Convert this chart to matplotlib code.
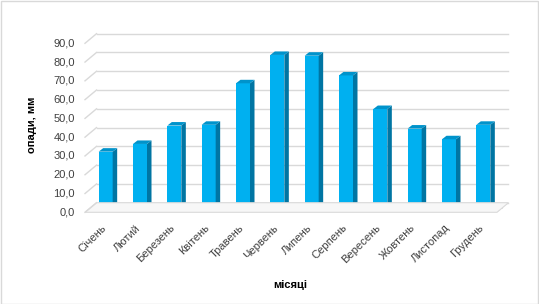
import matplotlib
matplotlib.use("Agg")
import matplotlib.pyplot as plt
import matplotlib.transforms as mtransforms
from matplotlib.patches import Polygon, Rectangle, Ellipse

months = ["Січень", "Лютий", "Березень", "Квітень", "Травень", "Червень",
          "Липень", "Серпень", "Вересень", "Жовтень", "Листопад", "Грудень"]
precip = [30.7, 34.8, 44.6, 45.0, 67.1, 82.2, 81.8, 71.3, 53.4, 43.0, 37.3, 45.0]
yticks = [0, 10, 20, 30, 40, 50, 60, 70, 80, 90]
ytick_labels = ["0,0", "10,0", "20,0", "30,0", "40,0", "50,0", "60,0", "70,0", "80,0", "90,0"]
ylabel = "опади, мм"
xlabel = "місяці"

plt.rcParams['font.family'] = ['Liberation Sans', 'DejaVu Sans']
W, H = 539, 304
DPI = 100
fig = plt.figure(figsize=(W / DPI, H / DPI), dpi=DPI)
fig.patch.set_facecolor("white")

# axes for the bar front plane (pixel layout)
left_px, right_px = 88.5, 500.5
y0_px, ytop_px = 209.3, 40.3
ax = fig.add_axes([left_px / W, (H - y0_px) / H, (right_px - left_px) / W, (y0_px - ytop_px) / H])
ax.set_xlim(-0.5, 11.5)
ax.set_ylim(0, 90)
ax.axis("off")

px_x = (right_px - left_px) / 12.0  # pixels per category
px_y = (y0_px - ytop_px) / 90.0     # pixels per unit

back = mtransforms.offset_copy(ax.transData, fig=fig, x=8, y=6.6, units='dots')
front = mtransforms.offset_copy(ax.transData, fig=fig, x=-3.5, y=-3.0, units='dots')

grid_c = "#d9d9d9"
text_c = "#404040"

# floor
pts = [front.transform((-0.5, 0)), front.transform((11.5, 0)),
       back.transform((11.5, 0)), back.transform((-0.5, 0))]
fig.patches.append(Polygon(pts, closed=True, transform=None, facecolor="#f7f7f7",
                           edgecolor=grid_c, lw=0.8, zorder=1))

# back wall gridlines + left diagonals
for v in yticks:
    ax.plot([-0.5, 11.5], [v, v], transform=back, color=grid_c, lw=1.0, clip_on=False, zorder=1)
    p1 = front.transform((-0.5, v)); p2 = back.transform((-0.5, v))
    fig.add_artist(plt.Line2D([p1[0], p2[0]], [p1[1], p2[1]], transform=None, color=grid_c, lw=1.0))

# y tick labels
ylab_tr = mtransforms.offset_copy(front, fig=fig, x=-10, y=0, units='dots')
for v, lab in zip(yticks, ytick_labels):
    ax.text(-0.5, v, lab, transform=ylab_tr, ha='right', va='center', fontsize=8, color=text_c)

# bars (pseudo-3D)
bw = 14.0 / px_x
dx = 4.5 / px_x
dy = 3.5 / px_y
c_front, c_side, c_top = "#00B0F0", "#0075A3", "#0093CB"
for i, v in enumerate(precip):
    xl, xr = i - bw / 2, i + bw / 2
    ax.add_patch(Ellipse((xr + 0.12, 0.6), 0.5, 1.4, facecolor="#a6a6a6", alpha=0.55,
                         edgecolor='none', zorder=2, clip_on=False))
    ax.add_patch(Rectangle((xl, 0), bw, v, facecolor=c_front, edgecolor='none', zorder=3, clip_on=False))
    ax.add_patch(Polygon([(xr, 0), (xr + dx, dy), (xr + dx, v + dy), (xr, v)], closed=True,
                         facecolor=c_side, edgecolor='none', zorder=3, clip_on=False))
    ax.add_patch(Polygon([(xl, v), (xr, v), (xr + dx, v + dy), (xl + dx, v + dy)], closed=True,
                         facecolor=c_top, edgecolor='none', zorder=3, clip_on=False))

# x tick labels
yl = -17.0 / px_y
for i, m in enumerate(months):
    ax.text(i - 1.0 / px_x, yl, m, rotation=45, rotation_mode='anchor', ha='right', va='center',
            fontsize=8, color=text_c, clip_on=False)

fig.text(32 / W, 1 - 124.5 / H, ylabel, rotation=90, ha='center', va='center',
         fontsize=8, fontweight='bold', color='black')
fig.text(290 / W, 1 - 285 / H, xlabel, ha='center', va='center',
         fontsize=8, fontweight='bold', color='black')

# figure border
fig.patches.append(Rectangle((0.5, 0.5), W - 1.5, H - 1.5, transform=None, facecolor='none',
                             edgecolor="#d9d9d9", lw=1.0))

fig.savefig("out.png", dpi=DPI)
